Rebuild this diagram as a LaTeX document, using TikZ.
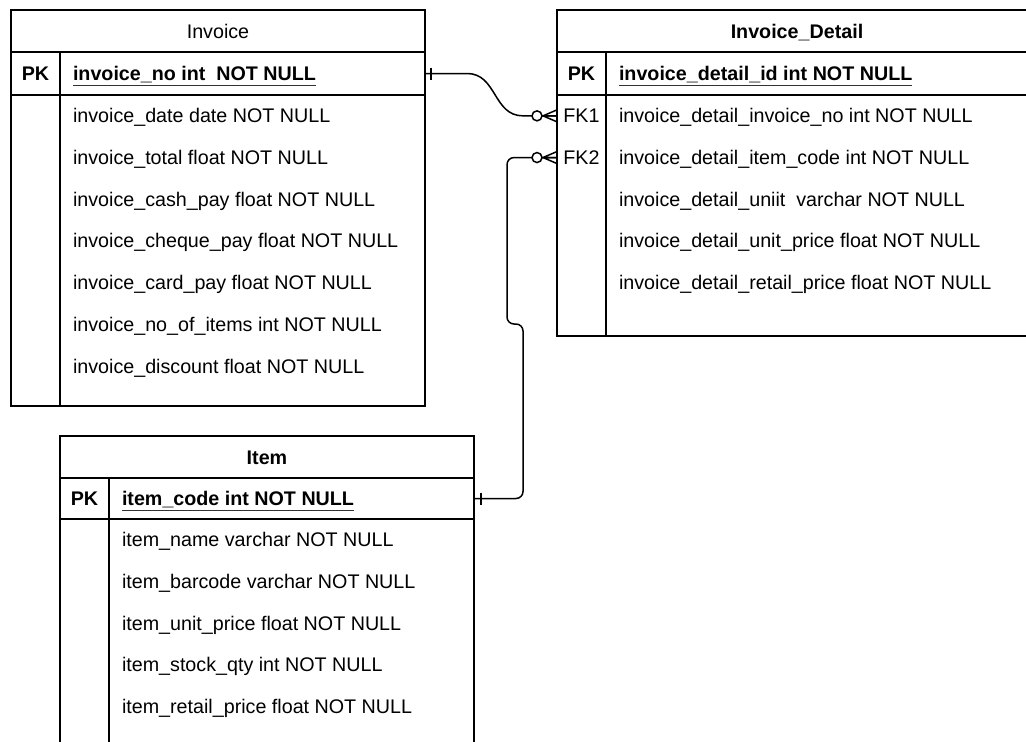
\documentclass[tikz,border=0pt]{standalone}
\usepackage{fontspec}
\setmainfont{Liberation Sans}
\begin{document}
\begin{tikzpicture}[x=1pt,y=-1pt]
    % Styles
    \tikzset{
      tbl/.style={draw, line width=1.8pt, inner sep=0pt, outer sep=0pt, anchor=north west},
      tblline/.style={line width=1.8pt},
      txt/.style={inner sep=0pt, outer sep=0pt, text height=14pt, text depth=0pt, font=\fontsize{19.7}{24}\selectfont},
      keytxt/.style={txt, minimum width=49pt},
      attr/.style={txt, anchor=north west, minimum height=41.7pt},
      pkattr/.style={txt, anchor=west},
      uline/.style={line width=1.2pt, black!80},
      rel/.style={line width=1.5pt},
      pics/onebar/.style={code={\draw[rel] (0,-6) -- (0,6);}},
      pics/zeromany/.style={code={
        \draw[rel] (-14,0) -- (0,-6) (-14,0) -- (0,6) (-20,0) -- (0,0);
        \draw[rel, fill=white] (-20,0) circle (5pt);}}
    }
    \useasboundingbox (0,0) rectangle (1026,742);
    \clip (0,0) rectangle (1026,742);

    % --- Table: Invoice ---
    \node[tbl, minimum width=414pt, minimum height=42pt] (inv) at (11,10) {};
    \node[tbl, minimum width=414pt, minimum height=43pt] (inv_pk) at (inv.south west) {};
    \node[tbl, minimum width=414pt, minimum height=311pt] (inv_body) at (inv_pk.south west) {};
    \draw[tblline] ([xshift=49pt]inv_pk.north west) -- ([xshift=49pt]inv_body.south west);

    \node[txt] (inv_title) at (inv.center) {Invoice};
    \node[keytxt] (inv_pkk) at ([xshift=24.5pt]inv_pk.west) {\bfseries PK};
    \node[pkattr] (inv_pka) at ([xshift=62pt]inv_pk.west) {\bfseries invoice\_no int\ \ NOT NULL\ };
    \node[attr] (inv_a1) at ([xshift=62pt]inv_body.north west) {invoice\_date date NOT NULL};
    \node[attr] (inv_a2) at (inv_a1.south west) {invoice\_total float NOT NULL};
    \node[attr] (inv_a3) at (inv_a2.south west) {invoice\_cash\_pay float NOT NULL};
    \node[attr] (inv_a4) at (inv_a3.south west) {invoice\_cheque\_pay float NOT NULL};
    \node[attr] (inv_a5) at (inv_a4.south west) {invoice\_card\_pay float NOT NULL};
    \node[attr] (inv_a6) at (inv_a5.south west) {invoice\_no\_of\_items int NOT NULL};
    \node[attr] (inv_a7) at (inv_a6.south west) {invoice\_discount float NOT NULL};

    % --- Table: Invoice_Detail ---
    \node[tbl, minimum width=480pt, minimum height=42pt] (det) at (557,10) {};
    \node[tbl, minimum width=480pt, minimum height=43pt] (det_pk) at (det.south west) {};
    \node[tbl, minimum width=480pt, minimum height=241pt] (det_body) at (det_pk.south west) {};
    \draw[tblline] ([xshift=49pt]det_pk.north west) -- ([xshift=49pt]det_body.south west);

    \node[txt] (det_title) at ([xshift=240pt]det.west) {\bfseries Invoice\_Detail};
    \node[keytxt] (det_pkk) at ([xshift=24.5pt]det_pk.west) {\bfseries PK};
    \node[pkattr] (det_pka) at ([xshift=62pt]det_pk.west) {\bfseries invoice\_detail\_id int NOT NULL};
    \node[attr] (det_a1) at ([xshift=62pt]det_body.north west) {invoice\_detail\_invoice\_no int NOT NULL};
    \node[attr] (det_a2) at (det_a1.south west) {invoice\_detail\_item\_code int NOT NULL};
    \node[attr] (det_a3) at (det_a2.south west) {invoice\_detail\_uniit\ \ varchar NOT NULL};
    \node[attr] (det_a4) at (det_a3.south west) {invoice\_detail\_unit\_price float NOT NULL};
    \node[attr] (det_a5) at (det_a4.south west) {invoice\_detail\_retail\_price float NOT NULL};
    \node[keytxt] (det_fk1) at ([xshift=-37.5pt]det_a1.west) {FK1};
    \node[keytxt] (det_fk2) at ([xshift=-37.5pt]det_a2.west) {FK2};

    % --- Table: Item ---
    \node[tbl, minimum width=414pt, minimum height=42pt] (itm) at (60,436) {};
    \node[tbl, minimum width=414pt, minimum height=41pt] (itm_pk) at (itm.south west) {};
    \node[tbl, minimum width=414pt, minimum height=241pt] (itm_body) at (itm_pk.south west) {};
    \draw[tblline] ([xshift=49pt]itm_pk.north west) -- ([xshift=49pt]itm_body.south west);

    \node[txt] (itm_title) at (itm.center) {\bfseries Item};
    \node[keytxt] (itm_pkk) at ([xshift=24.5pt]itm_pk.west) {\bfseries PK};
    \node[pkattr] (itm_pka) at ([xshift=62pt]itm_pk.west) {\bfseries item\_code int NOT NULL};
    \node[attr] (itm_a1) at ([xshift=62pt]itm_body.north west) {item\_name varchar NOT NULL};
    \node[attr] (itm_a2) at (itm_a1.south west) {item\_barcode varchar NOT NULL};
    \node[attr] (itm_a3) at (itm_a2.south west) {item\_unit\_price float NOT NULL};
    \node[attr] (itm_a4) at (itm_a3.south west) {item\_stock\_qty int NOT NULL};
    \node[attr] (itm_a5) at (itm_a4.south west) {item\_retail\_price float NOT NULL};

    % Primary key underlines
    \draw[uline] ([yshift=-5pt]inv_pka.base west) -- ([yshift=-5pt]inv_pka.base east);
    \draw[uline] ([yshift=-5pt]det_pka.base west) -- ([yshift=-5pt]det_pka.base east);
    \draw[uline] ([yshift=-5pt]itm_pka.base west) -- ([yshift=-5pt]itm_pka.base east);

    % --- Relationships ---
    \draw[rel] (inv_pk.east) -- ++(42,0) .. controls +(30,0) and +(-30,0) .. ([xshift=-34pt]det_fk1.west) -- (det_fk1.west);
    \coordinate (jog) at (523,324);
    \draw[rel, rounded corners=7pt] (itm_pk.east) -| (jog) -- ++(-16,0) |- (det_fk2.west);

    % Cardinality marks
    \pic at ([xshift=6pt]inv_pk.east) {onebar};
    \pic at ([xshift=7pt]itm_pk.east) {onebar};
    \pic at (det_fk1.west) {zeromany};
    \pic at (det_fk2.west) {zeromany};
\end{tikzpicture}
\end{document}
